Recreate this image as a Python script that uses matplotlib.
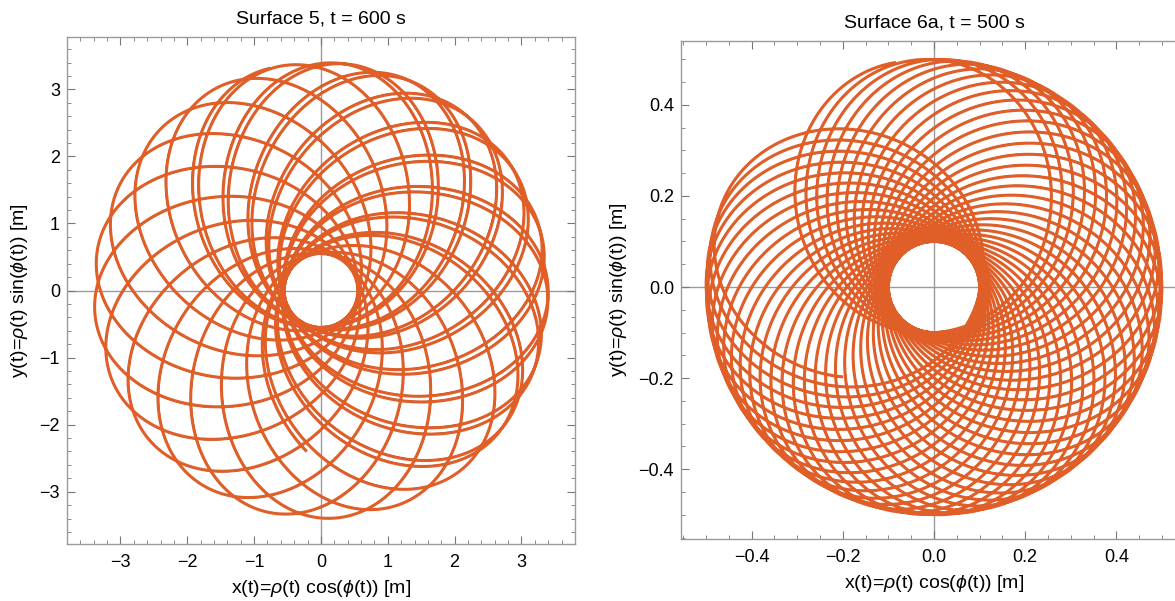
import numpy as np
import matplotlib.pyplot as plt
from matplotlib.ticker import MultipleLocator, FuncFormatter

plt.rcParams['font.family'] = ['Liberation Sans', 'DejaVu Sans']
plt.rcParams['mathtext.fontset'] = 'custom'
plt.rcParams['mathtext.rm'] = 'Liberation Sans'
plt.rcParams['mathtext.it'] = 'Liberation Sans:italic'

# orbit parameters
titles = ['Surface 5, t = 600 s', 'Surface 6a, t = 500 s']
rho_min = [0.55, 0.10]          # radius of the empty hole [m]
rho_max = [3.40, 0.50]          # outer apocentre radius [m]
loop_width = [3.35, 0.55]       # width of one loop across its long axis [m]
precession = [-17.3, -6.7]      # turn of the apocentre per loop [deg]
n_loops = [29.775, 45.3]        # loops drawn
first_apo = [103.3, 100.0]      # direction of the first apocentre [deg]

xlims = [(-3.8, 3.8), (-0.555, 0.555)]
ylims = [(-3.78, 3.78), (-0.553, 0.54)]
major_step = [1.0, 0.2]
minor_step = [0.2, 0.05]
decimals = [0, 1]

orange = '#E05E28'
frame_grey = '#9a9a9a'


def orbit(rmin, rmax, width, dphi, loops, start_deg, shift=0.0):
    c = 0.5 * (rmax - rmin)
    a = 0.5 * (rmax + rmin)
    b = 0.5 * width
    s = np.linspace(0, loops * 2 * np.pi, 60000)
    theta = np.deg2rad(start_deg + dphi * s / (2 * np.pi)) + shift
    z = np.exp(1j * theta) * (c + a * np.cos(s) + 1j * b * np.sin(s))
    return z.real, z.imag


def tick_label(d):
    return FuncFormatter(lambda v, pos: f'{v:.{d}f}'.replace('-', '\u2212'))


fig = plt.figure(figsize=(11.75, 6.01), dpi=100)
positions = [[0.057, 0.0948, 0.4323, 0.8436],
             [0.5796, 0.1032, 0.4306, 0.8286]]

for i in range(2):
    ax = fig.add_axes(positions[i])
    ax.axhline(0, color=frame_grey, lw=1.0, zorder=0)
    ax.axvline(0, color=frame_grey, lw=1.0, zorder=0)

    args = (rho_min[i], rho_max[i], loop_width[i], precession[i], n_loops[i], first_apo[i])
    xb, yb = orbit(*args, shift=0.006)
    ax.plot(xb, yb, color='black', lw=0.7, zorder=1)
    x, y = orbit(*args)
    ax.plot(x, y, color=orange, lw=2.2, zorder=2)

    ax.set_xlim(*xlims[i])
    ax.set_ylim(*ylims[i])
    ax.xaxis.set_major_locator(MultipleLocator(major_step[i]))
    ax.yaxis.set_major_locator(MultipleLocator(major_step[i]))
    ax.xaxis.set_minor_locator(MultipleLocator(minor_step[i]))
    ax.yaxis.set_minor_locator(MultipleLocator(minor_step[i]))
    ax.xaxis.set_major_formatter(tick_label(decimals[i]))
    ax.yaxis.set_major_formatter(tick_label(decimals[i]))
    ax.tick_params(which='both', direction='in', top=True, right=True,
                   color='#777777', labelsize=13)
    ax.tick_params(axis='x', pad=7)
    ax.tick_params(axis='y', pad=5)
    ax.tick_params(which='major', length=6, width=0.8)
    ax.tick_params(which='minor', length=3, width=0.6)
    for s in ax.spines.values():
        s.set_color(frame_grey)
        s.set_linewidth(1.0)

    ax.set_title(titles[i], fontsize=14, pad=10)
    ax.set_xlabel(r'x(t)=$\rho$(t) cos($\phi$(t)) [m]', fontsize=14, labelpad=5)
    ax.set_ylabel(r'y(t)=$\rho$(t) sin($\phi$(t)) [m]', fontsize=14, labelpad=7)

fig.savefig('out.png', dpi=100)
